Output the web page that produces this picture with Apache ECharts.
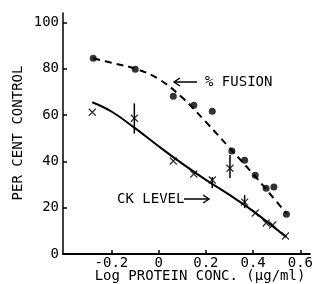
<!DOCTYPE html>
<html><head><meta charset="utf-8">
<script src="https://cdn.jsdelivr.net/npm/echarts@6/dist/echarts.min.js"></script>
<style>html,body{margin:0;padding:0;background:#fff}#c{width:316px;height:284px}</style>
</head><body><div id="c"></div>
<script>
const fusionX = [-0.277, -0.099, 0.062, 0.149, 0.227, 0.31, 0.364, 0.409, 0.455, 0.488, 0.541];
const fusionY = [84.5, 79.7, 68.1, 64.2, 61.6, 44.4, 40.5, 34.0, 28.4, 28.9, 17.2];
const ckX = [-0.281, -0.103, 0.062, 0.149, 0.227, 0.302, 0.364, 0.409, 0.455, 0.483, 0.537];
const ckY = [61.2, 58.6, 40.1, 34.5, 31.9, 37.0, 22.4, 17.7, 13.4, 12.5, 7.8];
const fusionFitX = [-0.277, -0.2, -0.1, 0.0, 0.1, 0.2, 0.3, 0.4, 0.5, 0.541];
const fusionFitY = [84.5, 82.5, 80.0, 75.5, 67.5, 57.0, 45.8, 34.5, 22.5, 17.6];
const ckFitX = [-0.281, -0.2, -0.1, 0.0, 0.1, 0.2, 0.3, 0.4, 0.54];
const ckFitY = [65.5, 61.5, 54.3, 46.5, 39.0, 32.0, 25.5, 18.5, 7.3];
const errX = [-0.103, 0.227, 0.302, 0.364];
const errLow = [52.0, 28.4, 32.8, 19.8];
const errHigh = [65.0, 33.2, 42.7, 25.4];
const xTicks = [-0.2, 0, 0.2, 0.4, 0.6];
const yTicks = [0, 20, 40, 60, 80, 100];

const F = 'DejaVu Sans Mono';
const zip = (a, b) => a.map((v, i) => [v, b[i]]);
const chart = echarts.init(document.getElementById('c'));
chart.setOption({
  animation: false,
  grid: {left: 63, right: 0, top: 13, bottom: 30},
  xAxis: {
    type: 'value', min: -0.405, max: 0.64,
    axisLine: {onZero: false, lineStyle: {color: '#000', width: 2}},
    axisTick: {customValues: xTicks, inside: true, length: 4, lineStyle: {color: '#000', width: 1.5}},
    axisLabel: {customValues: xTicks, color: '#000', fontFamily: F, fontSize: 14, margin: 2,
      formatter: v => Math.abs(v) < 1e-9 ? '0' : v.toFixed(1)},
    splitLine: {show: false}
  },
  yAxis: {
    type: 'value', min: 0, max: 104,
    axisLine: {show: true, onZero: false, lineStyle: {color: '#000', width: 1.5}},
    axisTick: {show: true, customValues: yTicks, inside: true, length: 4, lineStyle: {color: '#000', width: 1.5}},
    axisLabel: {customValues: yTicks, color: '#000', fontFamily: F, fontSize: 14, margin: 4},
    splitLine: {show: false}
  },
  series: [
    {type: 'line', data: zip(fusionFitX, fusionFitY), smooth: 0.4, showSymbol: false,
     lineStyle: {color: '#000', width: 2, type: [7, 5]}},
    {type: 'line', data: zip(ckFitX, ckFitY), smooth: 0.4, showSymbol: false,
     lineStyle: {color: '#000', width: 2}},
    {type: 'scatter', data: zip(fusionX, fusionY), symbol: 'circle', symbolSize: 7,
     itemStyle: {color: '#000'}},
    {type: 'scatter', data: zip(ckX, ckY), symbol: 'path://M0,0L10,10M10,0L0,10', symbolSize: 7,
     itemStyle: {color: 'none', borderColor: '#000', borderWidth: 1.3}},
    {type: 'custom', data: errX.map((x, i) => [x, errLow[i], errHigh[i]]),
     renderItem: (params, api) => {
       const a = api.coord([api.value(0), api.value(1)]);
       const b = api.coord([api.value(0), api.value(2)]);
       return {type: 'line', shape: {x1: a[0], y1: a[1], x2: b[0], y2: b[1]},
               style: {stroke: '#000', lineWidth: 1.5}};
     }}
  ],
  graphic: [
    {type: 'text', x: 18, y: 133, rotation: Math.PI / 2,
     style: {text: 'PER CENT CONTROL', font: '14px "' + F + '"', fill: '#000', align: 'center', verticalAlign: 'middle'}},
    {type: 'text', x: 200, y: 276,
     style: {text: 'Log PROTEIN CONC. (\u00b5g/ml)', font: '14px "' + F + '"', fill: '#000', align: 'center', verticalAlign: 'middle'}},
    {type: 'text', x: 205, y: 82,
     style: {text: '% FUSION', font: '14px "' + F + '"', fill: '#000', align: 'left', verticalAlign: 'middle'}},
    {type: 'text', x: 117, y: 199,
     style: {text: 'CK LEVEL', font: '14px "' + F + '"', fill: '#000', align: 'left', verticalAlign: 'middle'}},
    {type: 'polyline', shape: {points: [[174, 82], [197, 82]]}, style: {stroke: '#000', lineWidth: 1.5}},
    {type: 'polyline', shape: {points: [[180, 78], [174, 82], [180, 86]]}, style: {stroke: '#000', lineWidth: 1.5, fill: null}},
    {type: 'polyline', shape: {points: [[184, 199], [209, 199]]}, style: {stroke: '#000', lineWidth: 1.5}},
    {type: 'polyline', shape: {points: [[203, 195], [209, 199], [203, 203]]}, style: {stroke: '#000', lineWidth: 1.5, fill: null}}
  ]
});
</script></body></html>
